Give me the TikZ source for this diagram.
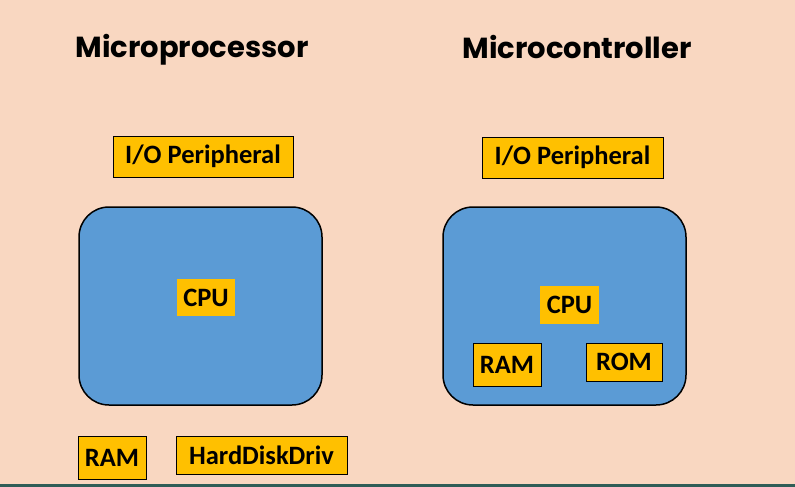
\documentclass[tikz,border=0pt]{standalone}
\usepackage{fontspec}
\setmainfont{Carlito}
\newfontfamily\titlefont{Poppins}
\definecolor{peach}{HTML}{F9D7C1}
\definecolor{coreblue}{HTML}{5B9BD5}
\definecolor{partgold}{HTML}{FFC000}
\definecolor{bandteal}{HTML}{2F5D57}
\begin{document}
\begin{tikzpicture}[x=1pt,y=-1pt,
		heading/.style={inner sep=0pt,font=\titlefont\bfseries\fontsize{29}{33}\selectfont},
		core/.style={draw=black,line width=1.5pt,fill=coreblue,rounded corners=30pt,inner sep=0pt},
		part/.style={draw=black,line width=1pt,fill=partgold,inner sep=0pt,font=\bfseries\fontsize{26.5}{30}\selectfont},
		bare/.style={part,draw=none}]
	\fill[peach] (0,0) rectangle (795,487);
	\fill[bandteal] (0,484) rectangle (795,487);
	% microprocessor side
	\node[heading] (mpTitle) at (192,50) {Microprocessor};
	\node[part,minimum width=180pt,minimum height=41pt] (mpIO) at (203,156.5) {I/O Peripheral};
	\node[core,minimum width=243pt,minimum height=198pt] (mpCore) at (200.5,306) {};
	\node[bare,minimum width=58pt,minimum height=37pt] (mpCPU) at (206,297.5) {CPU};
	\node[part,minimum width=68pt,minimum height=43pt] (mpRAM) at (112,457.5) {RAM};
	\node[part,minimum width=171pt,minimum height=38pt] (mpHDD) at (261.5,455) {HardDiskDriv};
	% microcontroller side
	\node[heading] (mcTitle) at (577,47) {Microcontroller};
	\node[part,minimum width=181pt,minimum height=41pt] (mcIO) at (572.5,157.5) {I/O Peripheral};
	\node[core,minimum width=243pt,minimum height=198pt] (mcCore) at (564.5,306) {};
	\node[bare,minimum width=59pt,minimum height=38pt] (mcCPU) at (569.5,305) {CPU};
	\node[part,minimum width=68pt,minimum height=43pt] (mcRAM) at (507,364.5) {RAM};
	\node[part,minimum width=76pt,minimum height=38pt] (mcROM) at (624,362) {ROM};
\end{tikzpicture}
\end{document}
